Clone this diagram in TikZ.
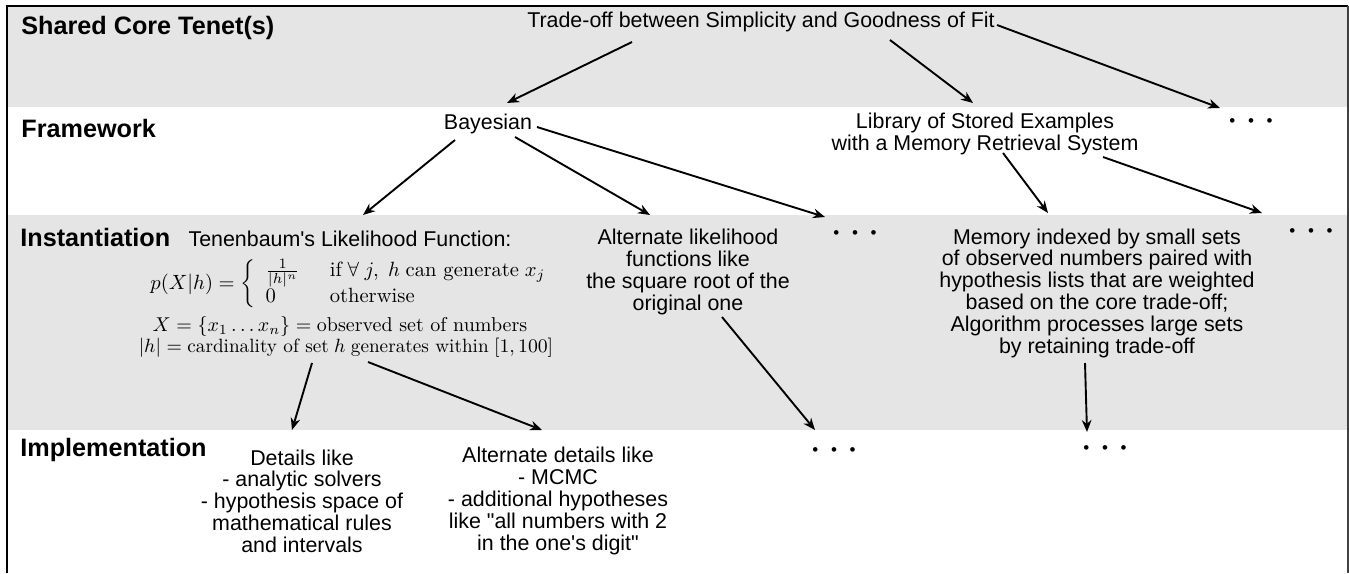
\RequirePackage{fix-cm}
\documentclass[tikz,border=0pt]{standalone}
\usepackage[no-math]{fontspec}
\setmainfont{Liberation Sans}
\usetikzlibrary{arrows.meta}
\newcommand{\cmtext}[1]{\mbox{\fontfamily{lmr}\selectfont #1}}
\newcommand{\moredots}{{\fontsize{8.5}{8.5}\selectfont\textbullet\hspace{6.3pt}\textbullet\hspace{6.3pt}\textbullet}}

\begin{document}
\begin{tikzpicture}[x=.5pt,y=-.5pt,
  lvl/.style={anchor=west,inner sep=0mm,font=\fontsize{12.6}{14}\selectfont\bfseries},
  txt/.style={inner sep=0mm,align=center,font=\fontsize{10.7}{10.9}\selectfont},
  arr/.style={-{Stealth[length=6pt,width=4.8pt]},line width=.95pt}]
  \useasboundingbox (0,0) rectangle (1349,573);
  % bands and frame
  \fill[black!10] (7,7) rectangle (1347,107);
  \fill[black!10] (7,215) rectangle (1347,430);
  \draw[line width=1pt] (7,573) -- (7,6) -- (1347.5,6);
  \draw[line width=.6pt,black!75] (1348,6) -- (1348,573);

  \foreach \x/\y/\n/\t in {21/28/core/Shared Core Tenet(s), 21/128/frame/Framework, 20/237/inst/Instantiation, 20/450/impl/Implementation}
    \node[lvl] (\n) at (\x,\y) {\t};
  \foreach \x/\y/\n/\t in {761/22/trade/Trade-off between Simplicity and Goodness of Fit,
      488/124/bayes/Bayesian,
      985/134/lib/{Library of Stored Examples\\with a Memory Retrieval System},
      350/239/tenen/Tenenbaum\textquotesingle s Likelihood Function:,
      688/272/altlik/{Alternate likelihood\\functions like\\the square root of the\\original one},
      1097/293/mem/{Memory indexed by small sets\\of observed numbers paired with\\hypothesis lists that are weighted\\based on the core trade-off;\\Algorithm processes large sets\\by retaining trade-off},
      302/501/details/{Details like\\- analytic solvers\\- hypothesis space of\\mathematical rules\\and intervals},
      558/501/altdet/{Alternate details like\\- MCMC\\- additional hypotheses\\like \textquotedbl all numbers with 2\\in the one\textquotesingle s digit\textquotedbl}}
    \node[txt] (\n) at (\x,\y) {\t};
  \node[txt,font=\fontsize{10.3}{11}\selectfont] (lik) at (354,284) {$p(X|h) = \left\{ \begin{array}{l@{\hspace{15pt}}l}
      \frac{1}{|h|^n} & \cmtext{if} \ \forall\ j,\ h \ \cmtext{can generate} \ x_j \\
      0 & \cmtext{otherwise} \end{array}\right.$};
  \node[txt,font=\fontsize{10}{11}\selectfont] (xdef) at (340,326) {$X = \{x_1 \ldots x_n\} = \cmtext{observed set of numbers}$};
  \node[txt,font=\fontsize{9.6}{10}\selectfont] (hdef) at (346,348) {$|h| = \cmtext{cardinality of set} \ h \ \cmtext{generates within} \ [1, 100]$};
  \foreach \x/\y/\n in {1251/123/fdots, 855/235/idots1, 1311/233/idots2, 834/452/mdots1, 1105/450/mdots2}
    \node[txt] (\n) at (\x,\y) {\moredots};

  \foreach \s/\sx/\sy/\t/\tx/\ty in {trade/-129/20/bayes/19/-21, trade/129/18/lib/-12/-31, trade/236/3/fdots/-31/-15,
      bayes/-33/16/tenen/13/-24, bayes/27/13/altlik/-38/-57, bayes/49/3/idots1/-30/-18,
      lib/18/19/mem/-49/-80, lib/118/23/idots2/-49/-20,
      hdef/-34/15/details/-10/-71, hdef/22/14/altdet/-16/-71,
      altlik/34/45/mdots1/-19/-22, mem/-12/70/mdots2/-18/-18}
    \draw[arr] ([shift={(\sx,\sy)}]\s.center) -- ([shift={(\tx,\ty)}]\t.center);
\end{tikzpicture}
\end{document}
